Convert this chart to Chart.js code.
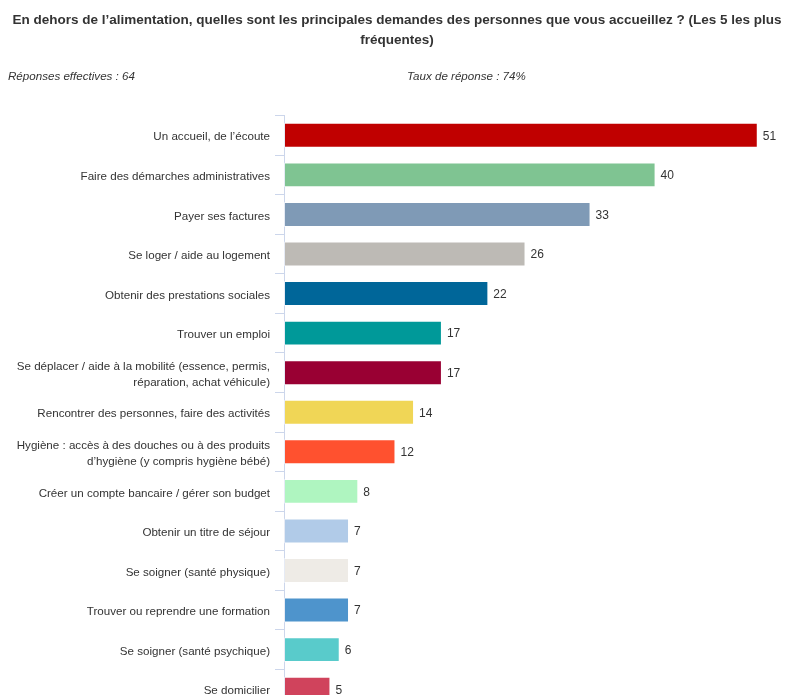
<!DOCTYPE html>
<html lang="fr">
<head>
<meta charset="utf-8">
<title>Principales demandes</title>
<script src="https://cdn.jsdelivr.net/npm/chart.js@4/dist/chart.umd.min.js"></script>
<style>
    html, body { margin: 0; padding: 0; background: #fff; overflow: hidden; }
    #wrap { position: relative; width: 795px; height: 722px; }
</style>
</head>
<body>
<div id="wrap"><canvas id="demandes-chart"></canvas></div>
<script>
// Chart data
const titleLines = [
    'En dehors de l’alimentation, quelles sont les principales demandes des personnes que vous accueillez ? (Les 5 les plus',
    'fréquentes)'
];
const responsesText = 'Réponses effectives : 64';
const rateText = 'Taux de réponse : 74%';

const categories = [
    'Un accueil, de l’écoute',
    'Faire des démarches administratives',
    'Payer ses factures',
    'Se loger / aide au logement',
    'Obtenir des prestations sociales',
    'Trouver un emploi',
    ['Se déplacer / aide à la mobilité (essence, permis,', 'réparation, achat véhicule)'],
    'Rencontrer des personnes, faire des activités',
    ['Hygiène : accès à des douches ou à des produits', 'd’hygiène (y compris hygiène bébé)'],
    'Créer un compte bancaire / gérer son budget',
    'Obtenir un titre de séjour',
    'Se soigner (santé physique)',
    'Trouver ou reprendre une formation',
    'Se soigner (santé psychique)',
    'Se domicilier'
];
const counts = [51, 40, 33, 26, 22, 17, 17, 14, 12, 8, 7, 7, 7, 6, 5];
const barColors = [
    '#c00000', '#7fc492', '#7f9ab6', '#bdbab5', '#006699',
    '#009999', '#990033', '#f0d656', '#ff512f', '#aff5c0',
    '#b1cbe8', '#eeebe6', '#4e94cc', '#59cbcb', '#d0435c'
];

const FONT = '"Liberation Sans", Arial, sans-serif';
const TEXT_COLOR = '#333333';

// Draw the numbers at the end of each bar
const valueLabels = {
    id: 'valueLabels',
    afterDatasetsDraw: function(chart) {
        const ctx = chart.ctx;
        const meta = chart.getDatasetMeta(0);
        ctx.save();
        ctx.font = '12px ' + FONT;
        ctx.fillStyle = TEXT_COLOR;
        ctx.textAlign = 'left';
        ctx.textBaseline = 'middle';
        meta.data.forEach(function(bar, i) {
            ctx.fillText(String(counts[i]), bar.x + 5, bar.y + 1);
        });
        ctx.restore();
    }
};

// Response stats line under the title
const statsLine = {
    id: 'statsLine',
    afterDraw: function(chart) {
        const ctx = chart.ctx;
        ctx.save();
        ctx.font = 'italic 11.6px ' + FONT;
        ctx.fillStyle = TEXT_COLOR;
        ctx.textAlign = 'left';
        ctx.textBaseline = 'middle';
        ctx.fillText(responsesText, 8, 77);
        ctx.fillText(rateText, 407, 77);
        ctx.restore();
    }
};

new Chart(document.getElementById('demandes-chart'), {
    type: 'bar',
    data: {
        labels: categories,
        datasets: [{
            data: counts,
            backgroundColor: barColors,
            borderColor: 'rgba(255, 255, 255, 0.5)',
            borderWidth: 1,
            borderSkipped: false,
            categoryPercentage: 1,
            barPercentage: 0.63
        }]
    },
    options: {
        indexAxis: 'y',
        responsive: true,
        maintainAspectRatio: false,
        animation: false,
        layout: {
            padding: { left: 0, right: 1, top: 0, bottom: 4 }
        },
        scales: {
            x: {
                display: false,
                min: 0,
                max: 54.9
            },
            y: {
                afterFit: function(scale) {
                    scale.width = 284;
                },
                border: { color: '#ccd6eb', width: 1 },
                grid: {
                    drawOnChartArea: false,
                    color: '#ccd6eb',
                    tickLength: 9
                },
                ticks: {
                    padding: 5,
                    labelOffset: 2,
                    color: TEXT_COLOR,
                    font: { family: FONT, size: 11.6, lineHeight: 1.38 }
                }
            }
        },
        plugins: {
            legend: { display: false },
            tooltip: { enabled: false },
            title: {
                display: true,
                text: titleLines,
                color: TEXT_COLOR,
                font: { family: FONT, size: 13.5, weight: 'bold', lineHeight: 1.5 },
                padding: { top: 10, bottom: 65 }
            }
        }
    },
    plugins: [valueLabels, statsLine]
});
</script>
</body>
</html>
